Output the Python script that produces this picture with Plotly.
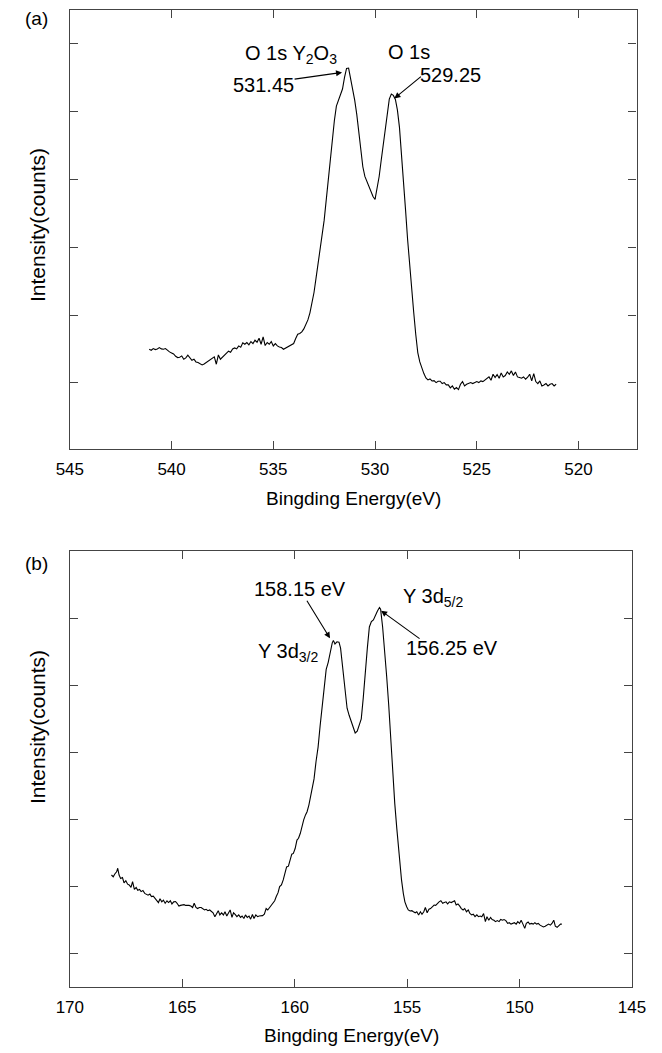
import plotly.graph_objects as go

# ---------------- data: panel (a) O 1s ----------------
energy_a = [
    541.1, 541.0, 540.9, 540.8, 540.7, 540.6, 540.5, 540.4, 540.3, 540.2,
    540.1, 540.0, 539.9, 539.8, 539.7, 539.6, 539.5, 539.4, 539.3, 539.2,
    539.1, 539.0, 538.9, 538.8, 538.7, 538.6, 538.5, 538.4, 538.3, 538.2,
    538.1, 538.0, 537.9, 537.8, 537.7, 537.6, 537.5, 537.4, 537.3, 537.2,
    537.1, 537.0, 536.9, 536.8, 536.7, 536.6, 536.5, 536.4, 536.3, 536.2,
    536.1, 536.0, 535.9, 535.8, 535.7, 535.6, 535.5, 535.4, 535.3, 535.2,
    535.1, 535.0, 534.9, 534.8, 534.7, 534.6, 534.5, 534.4, 534.3, 534.2,
    534.1, 534.0, 533.9, 533.8, 533.7, 533.6, 533.5, 533.4, 533.3, 533.2,
    533.1, 533.0, 532.9, 532.8, 532.7, 532.6, 532.5, 532.4, 532.3, 532.2,
    532.1, 532.0, 531.9, 531.8, 531.7, 531.6, 531.5, 531.4, 531.3, 531.2,
    531.1, 531.0, 530.9, 530.8, 530.7, 530.6, 530.5, 530.4, 530.3, 530.2,
    530.1, 530.0, 529.9, 529.8, 529.7, 529.6, 529.5, 529.4, 529.3, 529.2,
    529.1, 529.0, 528.9, 528.8, 528.7, 528.6, 528.5, 528.4, 528.3, 528.2,
    528.1, 528.0, 527.9, 527.8, 527.7, 527.6, 527.5, 527.4, 527.3, 527.2,
    527.1, 527.0, 526.9, 526.8, 526.7, 526.6, 526.5, 526.4, 526.3, 526.2,
    526.1, 526.0, 525.9, 525.8, 525.7, 525.6, 525.5, 525.4, 525.3, 525.2,
    525.1, 525.0, 524.9, 524.8, 524.7, 524.6, 524.5, 524.4, 524.3, 524.2,
    524.1, 524.0, 523.9, 523.8, 523.7, 523.6, 523.5, 523.4, 523.3, 523.2,
    523.1, 523.0, 522.9, 522.8, 522.7, 522.6, 522.5, 522.4, 522.3, 522.2,
    522.1, 522.0, 521.9, 521.8, 521.7, 521.6, 521.5, 521.4, 521.3, 521.2,
    521.1,
]
intensity_a = [
    101, 98, 103, 100, 102, 106, 102, 101, 103, 97,
    93, 90, 87, 80, 76, 77, 81, 71, 75, 83,
    75, 68, 71, 63, 61, 57, 54, 57, 61, 65,
    68, 72, 78, 56, 84, 71, 77, 82, 89, 95,
    92, 102, 105, 102, 111, 107, 120, 116, 121, 114,
    124, 118, 128, 122, 134, 116, 138, 112, 121, 116,
    124, 111, 118, 111, 108, 106, 101, 104, 108, 110,
    113, 118, 133, 146, 148, 153, 162, 176, 189, 210,
    241, 271, 314, 354, 394, 436, 488, 548, 610, 678,
    736, 786, 830, 848, 860, 881, 916, 943, 944, 914,
    880, 848, 806, 756, 704, 648, 619, 604, 589, 574,
    559, 550, 580, 618, 666, 716, 766, 816, 851, 866,
    862, 850, 818, 766, 691, 608, 518, 430, 351, 282,
    212, 146, 91, 63, 44, 28, 15, 9, 12, 6,
    7, 1, 5, 5, -2, 1, -6, -6, -15, -9,
    -19, -14, -20, -4, 4, -9, -4, -2, 1, -2,
    2, 4, 1, 6, 4, 8, 12, 18, 8, 26,
    16, 25, 14, 30, 18, 22, 33, 26, 36, 22,
    33, 18, 16, 14, 18, 11, 17, 26, 6, 28,
    4, -2, 6, -9, -6, -2, -9, -4, -2, -9,
    -4,
]

# ---------------- data: panel (b) Y 3d ----------------
energy_b = [
    168.15, 168.07, 168.00, 167.92, 167.87, 167.81, 167.74, 167.66, 167.59, 167.51,
    167.43, 167.36, 167.28, 167.21, 167.13, 167.05, 166.98, 166.90, 166.83, 166.75,
    166.67, 166.60, 166.52, 166.44, 166.37, 166.29, 166.22, 166.14, 166.06, 165.99,
    165.91, 165.84, 165.76, 165.68, 165.61, 165.53, 165.46, 165.38, 165.30, 165.23,
    165.15, 165.08, 165.00, 164.92, 164.85, 164.77, 164.70, 164.62, 164.54, 164.47,
    164.39, 164.32, 164.24, 164.16, 164.09, 164.01, 163.94, 163.86, 163.78, 163.71,
    163.63, 163.55, 163.48, 163.40, 163.33, 163.25, 163.17, 163.10, 163.02, 162.95,
    162.87, 162.79, 162.72, 162.64, 162.57, 162.49, 162.41, 162.34, 162.26, 162.19,
    162.11, 162.03, 161.96, 161.88, 161.81, 161.73, 161.65, 161.58, 161.50, 161.43,
    161.35, 161.27, 161.20, 161.12, 161.05, 160.97, 160.89, 160.82, 160.74, 160.67,
    160.59, 160.51, 160.44, 160.36, 160.28, 160.21, 160.13, 160.06, 159.98, 159.90,
    159.83, 159.75, 159.68, 159.60, 159.52, 159.45, 159.37,
    159.23, 159.14, 159.05, 158.96, 158.87, 158.78, 158.69, 158.60, 158.51, 158.42,
    158.33, 158.28, 158.21, 158.12, 158.03, 157.96, 157.85, 157.74, 157.67, 157.58,
    157.49, 157.40, 157.31, 157.22, 157.13, 157.04, 156.95, 156.86, 156.77, 156.68,
    156.59, 156.50, 156.41, 156.32, 156.23, 156.18, 156.09, 156.00, 155.91, 155.82,
    155.73, 155.64, 155.55, 155.46, 155.37,
    155.33, 155.25, 155.17, 155.10, 155.02, 154.95, 154.87, 154.79, 154.72, 154.64,
    154.57, 154.49, 154.41, 154.34, 154.26, 154.19, 154.11, 154.03, 153.96, 153.88,
    153.80, 153.73, 153.65, 153.58, 153.50, 153.42, 153.35, 153.27, 153.20, 153.12,
    153.04, 152.97, 152.89, 152.82, 152.74, 152.66, 152.59, 152.51, 152.44, 152.36,
    152.28, 152.21, 152.13, 152.06, 151.98, 151.90, 151.83, 151.75, 151.68, 151.60,
    151.52, 151.45, 151.37, 151.29, 151.22, 151.14, 151.07, 150.99, 150.91, 150.84,
    150.76, 150.69, 150.61, 150.53, 150.46, 150.38, 150.31, 150.23, 150.15, 150.08,
    150.00, 149.93, 149.85, 149.77, 149.70, 149.62, 149.55, 149.47, 149.39, 149.32,
    149.24, 149.17, 149.09, 149.01, 148.94, 148.86, 148.79, 148.71, 148.63, 148.56,
    148.48, 148.41, 148.33, 148.25, 148.18, 148.12,
]
intensity_b = [
    223, 218, 226, 232, 242, 223, 213, 216, 201, 207,
    197, 195, 188, 204, 182, 188, 180, 182, 176, 179,
    171, 169, 166, 169, 162, 163, 157, 152, 145, 156,
    147, 152, 143, 150, 145, 150, 141, 147, 148, 143,
    135, 137, 138, 139, 137, 138, 137, 135, 131, 143,
    131, 128, 131, 131, 128, 124, 126, 122, 124, 121,
    116, 105, 114, 122, 110, 116, 110, 119, 107, 114,
    124, 103, 116, 111, 105, 110, 103, 107, 100, 110,
    103, 107, 98, 111, 100, 110, 105, 107, 107, 108,
    112, 128, 124, 131, 135, 141, 150, 162, 173, 190,
    195, 209, 228, 246, 248, 261, 282, 284, 298, 322,
    327, 341, 360, 379, 393, 402, 421,
    470, 495, 545, 585, 645, 705, 765, 805, 825, 855,
    880, 887, 877, 883, 882, 865, 805, 745, 695, 675,
    660, 645, 625, 630, 645, 665, 725, 805, 865, 925,
    940, 945, 960, 970, 980, 975, 925, 865, 785, 705,
    605, 505, 425, 355, 285,
    256, 209, 171, 147, 133, 124, 121, 122, 119, 116,
    119, 110, 119, 112, 119, 131, 116, 126, 128, 133,
    138, 137, 143, 147, 150, 143, 145, 147, 141, 147,
    145, 147, 150, 138, 141, 135, 128, 124, 128, 119,
    124, 114, 110, 112, 105, 110, 105, 107, 105, 114,
    91, 105, 95, 103, 97, 95, 91, 94, 91, 97,
    95, 97, 94, 86, 88, 84, 86, 88, 84, 91,
    86, 95, 84, 72, 86, 90, 84, 86, 84, 88,
    84, 86, 81, 78, 76, 78, 81, 84, 81, 86,
    95, 78, 75, 81, 84, 84,
]

xticks_a = [545, 540, 535, 530, 525, 520]
xticks_b = [170, 165, 160, 155, 150, 145]
x_title = "Bingding Energy(eV)"
y_title = "Intensity(counts)"

# ---------------- figure ----------------
W, H = 662, 1053
FONT = "Liberation Sans, Arial, sans-serif"


def paper(x, y):
    return x / W, 1 - y / H


fig = go.Figure()
fig.add_trace(go.Scatter(x=energy_a, y=intensity_a, mode="lines",
                         line=dict(color="black", width=1.1),
                         xaxis="x", yaxis="y", showlegend=False, hoverinfo="skip"))
fig.add_trace(go.Scatter(x=energy_b, y=intensity_b, mode="lines",
                         line=dict(color="black", width=1.1),
                         xaxis="x2", yaxis="y2", showlegend=False, hoverinfo="skip"))

axis_style = dict(showline=True, linecolor="#444", linewidth=1.3, mirror="ticks",
                  ticks="inside", ticklen=8, tickwidth=1.3, tickcolor="#444",
                  showgrid=False, zeroline=False)
tick_font = dict(family=FONT, size=17, color="black")

step_a = 203.6
step_b = 190

fig.update_layout(
    width=W, height=H, autosize=False,
    margin=dict(l=0, r=0, t=0, b=0),
    paper_bgcolor="white", plot_bgcolor="white",
    showlegend=False,
    xaxis=dict(domain=[58.3 / W, 650 / W], range=[545, 517.15], tickvals=xticks_a,
               tickfont=tick_font, anchor="y", ticklabelstandoff=4, **axis_style),
    yaxis=dict(domain=[1 - 449.3 / H, 1 - 10 / H], range=[-199, 1118],
               tickvals=[step_a * i for i in range(6)], showticklabels=False,
               anchor="x", **axis_style),
    xaxis2=dict(domain=[58.3 / W, 645.3 / W], range=[170, 145], tickvals=xticks_b,
                tickfont=tick_font, anchor="y2", ticklabelstandoff=4, **axis_style),
    yaxis2=dict(domain=[1 - 987 / H, 1 - 551 / H], range=[-94, 1140],
                tickvals=[step_b * i for i in range(6)], showticklabels=False,
                anchor="x2", **axis_style),
)

ann = []


def text_at(x, y, t, size=20, angle=0):
    px_, py_ = paper(x, y)
    ann.append(dict(x=px_, y=py_, xref="paper", yref="paper", text=t,
                    showarrow=False, xanchor="center", yanchor="middle",
                    textangle=angle, font=dict(family=FONT, size=size, color="black")))


def arrow(x, y, ax, ay, xr, yr):
    ann.append(dict(x=x, y=y, xref=xr, yref=yr, ax=ax, ay=ay, text="",
                    showarrow=True, arrowhead=2, arrowsize=1.1, arrowwidth=1.1,
                    arrowcolor="black", standoff=0))


# panel labels
text_at(23, 18, "(a)", size=19)
text_at(23, 563, "(b)", size=19)

# axis titles
text_at(354, 499, x_title, size=19)
text_at(352, 1035, x_title, size=19)
text_at(24, 225, y_title, size=21, angle=-90)
text_at(24, 727, y_title, size=21, angle=-90)

# panel (a) peak labels
text_at(289, 55, "O 1s Y<sub>2</sub>O<sub>3</sub>", size=20)
text_at(412, 52, "O 1s", size=20)
text_at(261, 85, "531.45", size=20)
text_at(456, 75, "529.25", size=20)
arrow(531.62, 931, -49, 7, "x", "y")
arrow(529.05, 853, 28, -23, "x", "y")

# panel (b) peak labels
text_at(299, 589, "158.15 eV", size=20)
text_at(286, 652, "Y 3d<sub>3/2</sub>", size=20)
text_at(438, 597, "Y 3d<sub>5/2</sub>", size=20)
text_at(457, 648, "156.25 eV", size=20)
arrow(158.43, 893, -24, -39, "x2", "y2")
arrow(156.16, 971, 40, 29, "x2", "y2")

fig.update_layout(annotations=ann)
fig.write_html("out.html",
               config={"displayModeBar": False},
               post_script="document.body.style.margin='0px';"
                           "document.body.style.overflow='hidden';")
